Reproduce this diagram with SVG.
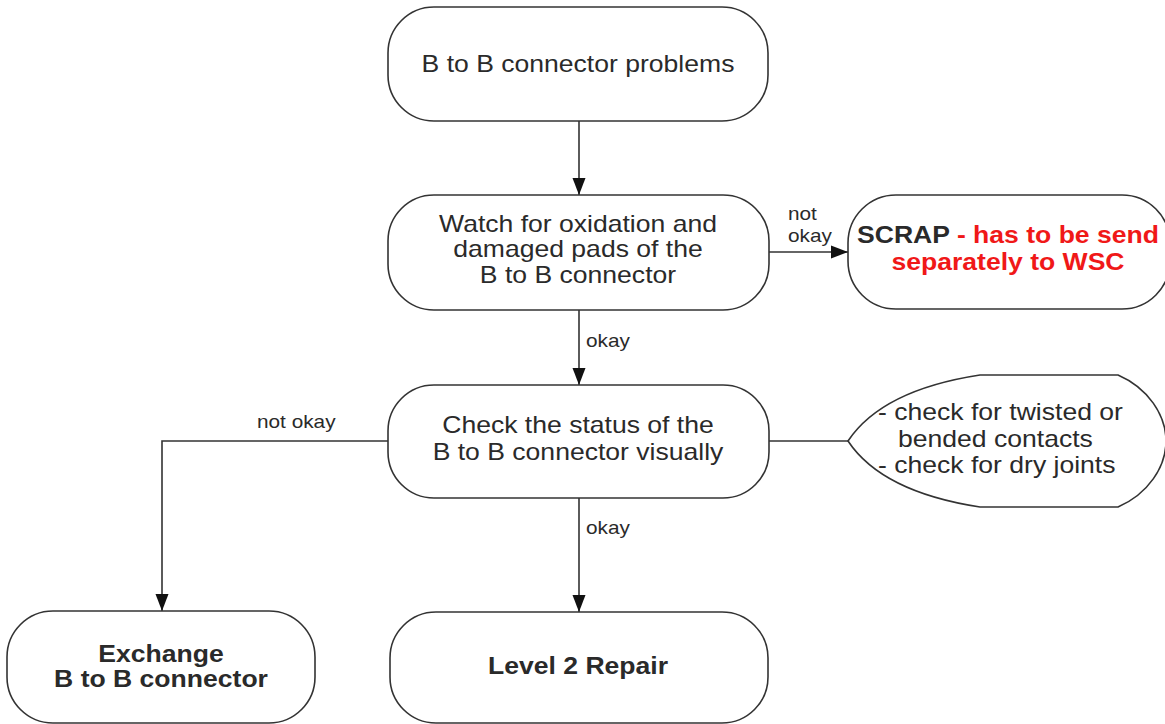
<svg xmlns="http://www.w3.org/2000/svg" width="1165" height="724" viewBox="0 0 1165 724">
<style>
.node{fill:#fff;stroke:#333;stroke-width:1.6}
.edge{fill:none;stroke:#333;stroke-width:1.6}
.t{font-family:"Liberation Sans",Arial,sans-serif;font-size:23px;fill:#2a2a2a}
.b{font-weight:bold}
.red{fill:#f01818}
.lbl{font-family:"Liberation Sans",Arial,sans-serif;font-size:18px;fill:#2a2a2a}
.m{text-anchor:middle}
</style>
<defs>
<marker id="arr" markerWidth="18" markerHeight="14" refX="17" refY="7" orient="auto" markerUnits="userSpaceOnUse">
<path d="M0,0.5 L17,7 L0,13.5 Z" fill="#111"/>
</marker>
</defs>
<rect width="1165" height="724" fill="#fff"/>
<g id="connectors">
<path class="edge" d="M579,121 V195" marker-end="url(#arr)"/>
<path class="edge" d="M769,252 H848" marker-end="url(#arr)"/>
<path class="edge" d="M579,310 V385" marker-end="url(#arr)"/>
<path class="edge" d="M388,441 H162 V611" marker-end="url(#arr)"/>
<path class="edge" d="M769,441 H848"/>
<path class="edge" d="M579,498 V612" marker-end="url(#arr)"/>
<text class="lbl" transform="translate(788,220) scale(1.155,1)">not</text>
<text class="lbl" transform="translate(788,242) scale(1.155,1)">okay</text>
<text class="lbl" transform="translate(586,347) scale(1.155,1)">okay</text>
<text class="lbl" transform="translate(257,428) scale(1.155,1)">not okay</text>
<text class="lbl" transform="translate(586,534) scale(1.155,1)">okay</text>
</g>
<g id="n1">
<rect class="node" x="388" y="7" width="380" height="114" rx="46" ry="46"/>
<text class="t m" transform="translate(578,72) scale(1.155,1)">B to B connector problems</text>
</g>
<g id="n2">
<rect class="node" x="388" y="195" width="381" height="115" rx="46" ry="46"/>
<text class="t m" transform="translate(578,232) scale(1.155,1)">Watch for oxidation and</text>
<text class="t m" transform="translate(578,257) scale(1.155,1)">damaged pads of the</text>
<text class="t m" transform="translate(578,283) scale(1.155,1)">B to B connector</text>
</g>
<g id="scrap">
<rect class="node" x="848" y="195" width="322" height="114" rx="48" ry="48"/>
<text class="t b m" transform="translate(1008,243) scale(1.155,1)">SCRAP <tspan class="red">- has to be send</tspan></text>
<text class="t b m red" transform="translate(1008,270) scale(1.155,1)">separately to WSC</text>
</g>
<g id="n3">
<rect class="node" x="388" y="385" width="381" height="113" rx="46" ry="46"/>
<text class="t m" transform="translate(578,433) scale(1.155,1)">Check the status of the</text>
<text class="t m" transform="translate(578,460) scale(1.155,1)">B to B connector visually</text>
</g>
<g id="note">
<path class="node" d="M980,375 H1118 C1148,388 1166,415 1166,441 C1166,467 1148,494 1118,507 H980 Q882,492 848,441 Q882,390 980,375 Z"/>
<text class="t" transform="translate(878,420) scale(1.155,1)">- check for twisted or</text>
<text class="t" transform="translate(898,447) scale(1.155,1)">bended contacts</text>
<text class="t" transform="translate(878,473) scale(1.155,1)">- check for dry joints</text>
</g>
<g id="exchange">
<rect class="node" x="7" y="611" width="308" height="112" rx="46" ry="46"/>
<text class="t b m" transform="translate(161,662) scale(1.155,1)">Exchange</text>
<text class="t b m" transform="translate(161,687) scale(1.155,1)">B to B connector</text>
</g>
<g id="level2">
<rect class="node" x="390" y="612" width="378" height="111" rx="46" ry="46"/>
<text class="t b m" transform="translate(578,674) scale(1.155,1)">Level 2 Repair</text>
</g>
</svg>
